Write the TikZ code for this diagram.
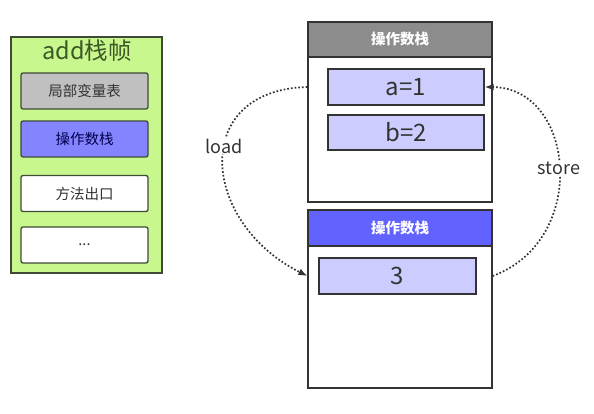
\documentclass[tikz,border=0pt]{standalone}
\usepackage{fontspec}
\setmainfont{Noto Sans CJK SC}
\usetikzlibrary{arrows.meta}

\definecolor{framegreen}{HTML}{C8F78E}
\definecolor{frameline}{HTML}{3E4A36}
\definecolor{titlegreen}{HTML}{3D5826}
\definecolor{slotgray}{HTML}{C0C0C0}
\definecolor{slotblue}{HTML}{8484FF}
\definecolor{cellblue}{HTML}{CCCCFF}
\definecolor{headgray}{HTML}{8C8C8C}
\definecolor{headblue}{HTML}{6262FF}
\definecolor{txt}{HTML}{333333}

\begin{document}
\begin{tikzpicture}[x=1pt,y=-1pt,line width=1.3pt]
	\useasboundingbox (0,0) rectangle (594,414);
	\tikzset{
		slot/.style={draw=frameline,rounded corners=2pt,minimum width=127pt,minimum height=36pt,inner sep=0pt,text=txt,font=\fontsize{14.5}{14.5}\selectfont},
		stackbox/.style={draw=black!80,fill=white,minimum width=184pt,inner sep=0pt},
		head/.style={draw=black!80,minimum width=184pt,minimum height=35pt,inner sep=0pt,text=white,font=\fontsize{14.5}{14.5}\selectfont\bfseries},
		cell/.style={draw=black!80,fill=cellblue,minimum height=36pt,inner sep=0pt,text=txt,font=\fontsize{24}{24}\selectfont},
		flow/.style={draw=black!80,dotted,line width=1.7pt,-{Latex[length=9pt,width=7pt]}},
		flowlabel/.style={fill=white,inner sep=1pt,text=txt,font=\fontsize{18}{18}\selectfont}
	}
	% add frame
	\path (86.5,155) node[draw=frameline,fill=framegreen,minimum width=151pt,minimum height=236pt] (frame) {};
	\path (87,51) node[text=titlegreen,font=\fontsize{23.5}{23.5}\selectfont] (ftitle) {add栈帧};
	\path (84.5,91)    node[slot,fill=slotgray] (locals) {局部变量表};
	\path (84.5,139)   node[slot,fill=slotblue,text=blue!30!black] (opstack) {操作数栈};
	\path (84.5,193.5) node[slot,fill=white] (exit) {方法出口};
	\path (84.5,245)   node[slot,fill=white] (more) {...};
	% operand stack before
	\path (400,112) node[stackbox,minimum height=180pt] (top) {};
	\path (400,39.5) node[head,fill=headgray] (tophead) {操作数栈};
	\path (406,87)    node[cell,minimum width=156pt] (a) {a=1};
	\path (406,132.5) node[cell,minimum width=156pt,minimum height=35pt] (b) {b=2};
	% operand stack after
	\path (400,299) node[stackbox,minimum height=178pt] (bot) {};
	\path (400,228) node[head,fill=headblue,minimum height=36pt] (bothead) {操作数栈};
	\path (397.5,276) node[cell,minimum width=157pt] (sum) {3};
	% load / store
	\draw[flow] (top.west |- a) .. controls (190,90) and (200,222) .. (bot.west |- sum)
		node[pos=0.43,flowlabel,solid] {load};
	\draw[flow] (bot.east |- sum) .. controls (590,240) and (575,88) .. (a.east)
		node[pos=0.5,flowlabel,solid] {store};
\end{tikzpicture}
\end{document}
